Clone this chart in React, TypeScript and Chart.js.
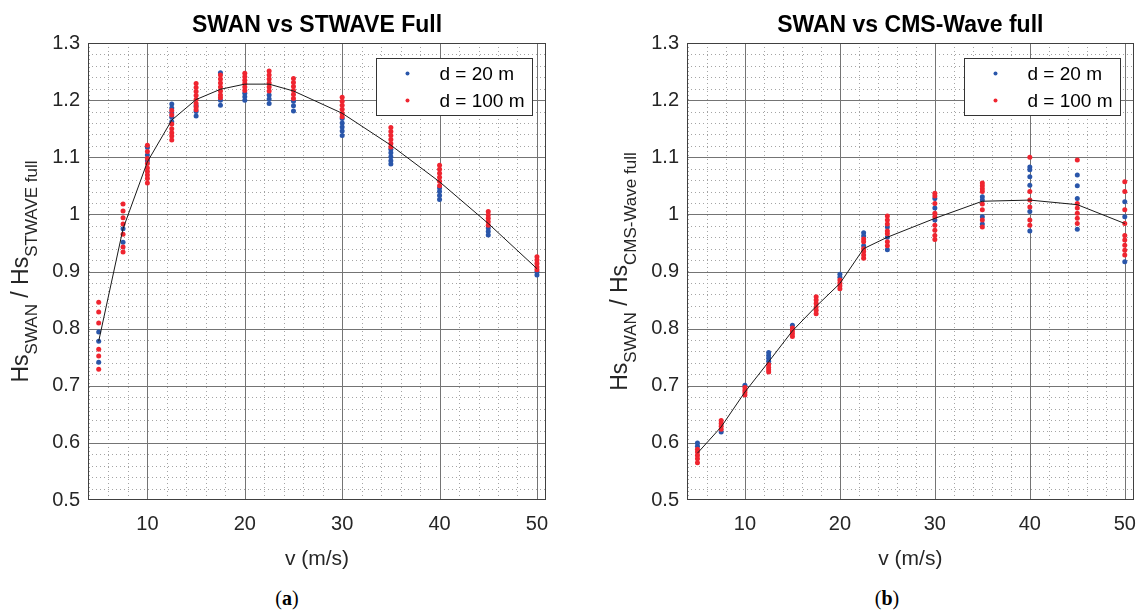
import React, { useEffect, useRef } from "react";
import { Chart, registerables } from "chart.js";

Chart.register(...registerables);

// ---------------- data ----------------
const V_WIND = [5, 7.5, 10, 12.5, 15, 17.5, 20, 22.5, 25, 30, 35, 40, 45, 50];
const X_TICKS = [10, 20, 30, 40, 50];
const Y_TICKS = [0.5, 0.6, 0.7, 0.8, 0.9, 1.0, 1.1, 1.2, 1.3];
const X_MIN = 3.9;
const X_MAX = 50.93;
const Y_MIN = 0.5;
const Y_MAX = 1.3;
const X_MINOR_STEP = 2;
const Y_MINOR_STEP = 0.02;
const LEGEND_LABELS = ["d = 20 m", "d = 100 m"];
const X_LABEL = "v (m/s)";
const TITLE_A = "SWAN vs STWAVE Full";
const TITLE_B = "SWAN vs CMS-Wave full";
const SUB_A = "STWAVE full";
const SUB_B = "CMS-Wave full";

// (a) SWAN vs STWAVE
const STWAVE_D20: number[][] = [
  [0.794, 0.778, 0.741],
  [0.975, 0.951],
  [1.117, 1.104, 1.094],
  [1.193, 1.186, 1.178, 1.170, 1.162],
  [1.190, 1.180, 1.172],
  [1.248, 1.200, 1.191],
  [1.212, 1.206, 1.200],
  [1.209, 1.202, 1.194],
  [1.198, 1.190, 1.181],
  [1.168, 1.160, 1.153, 1.146, 1.138],
  [1.114, 1.108, 1.101, 1.094, 1.088],
  [1.046, 1.040, 1.033, 1.026],
  [0.976, 0.970, 0.964],
  [0.899, 0.894],
];
const STWAVE_D100: number[][] = [
  [0.846, 0.829, 0.810, 0.764, 0.752, 0.729],
  [1.018, 1.006, 0.994, 0.983, 0.965, 0.943, 0.934],
  [1.121, 1.110, 1.098, 1.089, 1.081, 1.075, 1.069, 1.063, 1.055],
  [1.182, 1.174, 1.158, 1.150, 1.143, 1.137, 1.130],
  [1.229, 1.222, 1.215, 1.208, 1.201, 1.194, 1.188, 1.183],
  [1.244, 1.237, 1.230, 1.223, 1.216, 1.209, 1.204],
  [1.247, 1.241, 1.235, 1.229, 1.223, 1.217],
  [1.251, 1.244, 1.237, 1.230, 1.223, 1.216],
  [1.238, 1.231, 1.224, 1.217, 1.210, 1.203],
  [1.205, 1.198, 1.191, 1.184, 1.177, 1.171],
  [1.152, 1.145, 1.138, 1.131, 1.124, 1.118],
  [1.086, 1.079, 1.072, 1.065, 1.058, 1.050],
  [1.005, 0.999, 0.993, 0.987, 0.981],
  [0.926, 0.920, 0.914, 0.908, 0.903],
];
const STWAVE_MEAN = [0.778, 0.975, 1.092, 1.165, 1.201, 1.219, 1.228, 1.228, 1.216, 1.177, 1.121, 1.057, 0.984, 0.905];

// (b) SWAN vs CMS-Wave
const CMS_D20: number[][] = [
  [0.600, 0.594],
  [0.619],
  [0.701],
  [0.758, 0.753, 0.748, 0.743],
  [0.806],
  [],
  [0.895, 0.890],
  [0.968, 0.962, 0.945],
  [0.978, 0.960, 0.938],
  [1.028, 1.011, 0.990],
  [1.031, 1.025, 0.996, 0.983],
  [1.083, 1.078, 1.066, 1.051, 1.005, 0.971],
  [1.069, 1.050, 1.028, 0.974],
  [1.022, 0.996, 0.917],
];
const CMS_D100: number[][] = [
  [0.589, 0.584, 0.578, 0.572, 0.565],
  [0.639, 0.634, 0.629, 0.624],
  [0.697, 0.692, 0.688, 0.684],
  [0.737, 0.732, 0.728, 0.724],
  [0.801, 0.796, 0.791, 0.786],
  [0.856, 0.850, 0.844, 0.838, 0.832, 0.826],
  [0.885, 0.880, 0.875, 0.870],
  [0.957, 0.952, 0.940, 0.935, 0.929, 0.923],
  [0.997, 0.990, 0.983, 0.971, 0.966, 0.952, 0.945],
  [1.037, 1.032, 1.019, 1.002, 0.996, 0.981, 0.972, 0.963, 0.956],
  [1.055, 1.050, 1.045, 1.040, 1.018, 1.008, 0.990, 0.978],
  [1.100, 1.040, 1.025, 1.013, 0.990, 0.981],
  [1.095, 1.019, 1.011, 1.002, 0.993, 0.984],
  [1.057, 1.040, 1.008, 0.984, 0.963, 0.955, 0.946, 0.937, 0.929],
];
const CMS_MEAN = [0.582, 0.628, 0.689, 0.742, 0.796, 0.839, 0.879, 0.940, 0.960, 0.993, 1.023, 1.025, 1.017, 0.984];

// ---------------- styling ----------------
const FONT = '"Liberation Sans", Arial, Helvetica, sans-serif';
const BLUE = "#2a56aa";
const RED = "#ef2530";
const TEXT = "#262626";

Chart.defaults.font.family = FONT;

type PanelProps = {
  left: number;
  title: string;
  sub: string;
  d20: number[][];
  d100: number[][];
  mean: number[];
  yAxisWidth: number;
  padRight: number;
};

function toPoints(arr: number[][]) {
  const pts: { x: number; y: number }[] = [];
  V_WIND.forEach((v, i) => arr[i].forEach((y) => pts.push({ x: v, y })));
  return pts;
}

function Panel(props: PanelProps) {
  const ref = useRef<HTMLCanvasElement>(null);

  useEffect(() => {
    const canvas = ref.current!;
    const decor = {
      id: "decor",
      beforeDatasetsDraw(chart: any) {
        const { ctx, chartArea: a, scales } = chart;
        const xs = scales.x;
        const ys = scales.y;
        ctx.save();
        ctx.beginPath();
        ctx.rect(a.left, a.top, a.right - a.left, a.bottom - a.top);
        ctx.clip();
        // minor grid
        ctx.strokeStyle = "#a4a4a4";
        ctx.lineWidth = 1;
        ctx.setLineDash([1, 3]);
        for (let v = Math.ceil(X_MIN / X_MINOR_STEP) * X_MINOR_STEP; v <= X_MAX; v += X_MINOR_STEP) {
          if (X_TICKS.includes(v)) continue;
          const px = Math.round(xs.getPixelForValue(v)) + 0.5;
          ctx.beginPath();
          ctx.moveTo(px, a.top);
          ctx.lineTo(px, a.bottom);
          ctx.stroke();
        }
        const nMinor = Math.round((Y_MAX - Y_MIN) / Y_MINOR_STEP);
        for (let k = 1; k < nMinor; k++) {
          if (k % 5 === 0) continue;
          const v = Y_MIN + k * Y_MINOR_STEP;
          const py = Math.round(ys.getPixelForValue(v)) + 0.5;
          ctx.beginPath();
          ctx.moveTo(a.left, py);
          ctx.lineTo(a.right, py);
          ctx.stroke();
        }
        // major grid
        ctx.setLineDash([]);
        ctx.strokeStyle = "#747474";
        X_TICKS.forEach((v) => {
          const px = Math.round(xs.getPixelForValue(v)) + 0.5;
          ctx.beginPath();
          ctx.moveTo(px, a.top);
          ctx.lineTo(px, a.bottom);
          ctx.stroke();
        });
        Y_TICKS.forEach((v) => {
          const py = Math.round(ys.getPixelForValue(v)) + 0.5;
          ctx.beginPath();
          ctx.moveTo(a.left, py);
          ctx.lineTo(a.right, py);
          ctx.stroke();
        });
        ctx.restore();
      },
      afterDraw(chart: any) {
        const { ctx, chartArea: a } = chart;
        ctx.save();
        // axes box
        ctx.strokeStyle = "#404040";
        ctx.lineWidth = 1;
        ctx.strokeRect(Math.round(a.left) + 0.5, Math.round(a.top) + 0.5, Math.round(a.right - a.left) - 1, Math.round(a.bottom - a.top) - 1);
        const cx = (a.left + a.right) / 2;
        // title
        ctx.fillStyle = "#000";
        ctx.font = `bold 23px ${FONT}`;
        ctx.textAlign = "center";
        ctx.textBaseline = "alphabetic";
        ctx.fillText(props.title, cx, 32);
        // x label
        ctx.fillStyle = TEXT;
        ctx.font = `21px ${FONT}`;
        ctx.textBaseline = "middle";
        ctx.fillText(X_LABEL, cx, 559);
        // y label with subscripts
        const parts = [
          { t: "Hs", sub: false },
          { t: "SWAN", sub: true },
          { t: " / Hs", sub: false },
          { t: props.sub, sub: true },
        ];
        const mainFont = `23px ${FONT}`;
        const subFont = `17px ${FONT}`;
        let total = 0;
        const widths = parts.map((p) => {
          ctx.font = p.sub ? subFont : mainFont;
          const w = ctx.measureText(p.t).width;
          total += w;
          return w;
        });
        ctx.translate(a.left - 60, (a.top + a.bottom) / 2);
        ctx.rotate(-Math.PI / 2);
        ctx.textAlign = "left";
        ctx.textBaseline = "alphabetic";
        let x = -total / 2;
        parts.forEach((p, i) => {
          ctx.font = p.sub ? subFont : mainFont;
          ctx.fillText(p.t, x, p.sub ? 9 : 0);
          x += widths[i];
        });
        ctx.restore();

        // legend
        ctx.save();
        const bw = 156;
        const bh = 57;
        const bx = Math.round(a.right - 14 - bw) + 0.5;
        const by = Math.round(a.top + 15) + 0.5;
        ctx.fillStyle = "#fff";
        ctx.fillRect(bx, by, bw, bh);
        ctx.strokeStyle = "#333";
        ctx.lineWidth = 1;
        ctx.strokeRect(bx, by, bw, bh);
        const colors = [BLUE, RED];
        LEGEND_LABELS.forEach((lab, i) => {
          const yy = by + 15 + i * 27;
          ctx.fillStyle = colors[i];
          ctx.beginPath();
          ctx.arc(bx + 31, yy, 2, 0, Math.PI * 2);
          ctx.fill();
          ctx.fillStyle = "#000";
          ctx.font = `19px ${FONT}`;
          ctx.textAlign = "left";
          ctx.textBaseline = "middle";
          ctx.fillText(lab, bx + 63, yy + 1);
        });
        ctx.restore();
      },
    };

    const chart = new Chart(canvas, {
      type: "scatter",
      data: {
        datasets: [
          {
            type: "scatter",
            label: "mean",
            data: V_WIND.map((v, i) => ({ x: v, y: props.mean[i] })),
            showLine: true,
            borderColor: "#1a1a1a",
            borderWidth: 1,
            pointRadius: 0,
            tension: 0,
            order: 0,
          } as any,
          {
            label: LEGEND_LABELS[1],
            data: toPoints(props.d100),
            backgroundColor: RED,
            borderWidth: 0,
            pointRadius: 2.5,
            order: 1,
          },
          {
            label: LEGEND_LABELS[0],
            data: toPoints(props.d20),
            backgroundColor: BLUE,
            borderWidth: 0,
            pointRadius: 2.5,
            order: 2,
          },
        ],
      },
      options: {
        responsive: false,
        animation: false,
        devicePixelRatio: 1,
        layout: { padding: { top: 43, right: props.padRight, left: 0, bottom: 0 } },
        plugins: {
          legend: { display: false },
          tooltip: { enabled: false },
          title: { display: false },
        },
        scales: {
          x: {
            type: "linear",
            min: X_MIN,
            max: X_MAX,
            grid: { display: false, drawTicks: false },
            border: { display: false },
            afterBuildTicks: (s: any) => {
              s.ticks = X_TICKS.map((v) => ({ value: v }));
            },
            afterFit: (s: any) => {
              s.height = 70;
            },
            ticks: {
              autoSkip: false,
              maxRotation: 0,
              padding: 12,
              color: TEXT,
              font: { size: 20 },
              callback: (v: any) => String(v),
            },
          },
          y: {
            type: "linear",
            min: Y_MIN,
            max: Y_MAX,
            grid: { display: false, drawTicks: false },
            border: { display: false },
            afterBuildTicks: (s: any) => {
              s.ticks = Y_TICKS.map((v) => ({ value: v }));
            },
            afterFit: (s: any) => {
              s.width = props.yAxisWidth;
            },
            ticks: {
              autoSkip: false,
              padding: 8,
              color: TEXT,
              font: { size: 20 },
              callback: (v: any) => {
                const n = Math.round(Number(v) * 10) / 10;
                return n === 1 ? "1" : n.toFixed(1);
              },
            },
          },
        },
      },
      plugins: [decor],
    });
    return () => chart.destroy();
  }, []);

  return (
    <canvas
      ref={ref}
      width={574}
      height={570}
      style={{ position: "absolute", left: props.left, top: 0, width: 574, height: 570 }}
    />
  );
}

export default function App() {
  const cap: React.CSSProperties = {
    position: "absolute",
    top: 587,
    width: 574,
    textAlign: "center",
    fontFamily: '"Liberation Serif", "Times New Roman", serif',
    fontSize: 20,
    lineHeight: "22px",
    color: "#000",
  };
  return (
    <div style={{ position: "fixed", left: 0, top: 0, width: 1148, height: 615, background: "#fff", overflow: "hidden" }}>
      <Panel left={0} title={TITLE_A} sub={SUB_A} d20={STWAVE_D20} d100={STWAVE_D100} mean={STWAVE_MEAN} yAxisWidth={88} padRight={28} />
      <Panel left={574} title={TITLE_B} sub={SUB_B} d20={CMS_D20} d100={CMS_D100} mean={CMS_MEAN} yAxisWidth={113} padRight={5} />
      <div style={{ ...cap, left: 0 }}>
        (<b>a</b>)
      </div>
      <div style={{ ...cap, left: 600 }}>
        (<b>b</b>)
      </div>
    </div>
  );
}
